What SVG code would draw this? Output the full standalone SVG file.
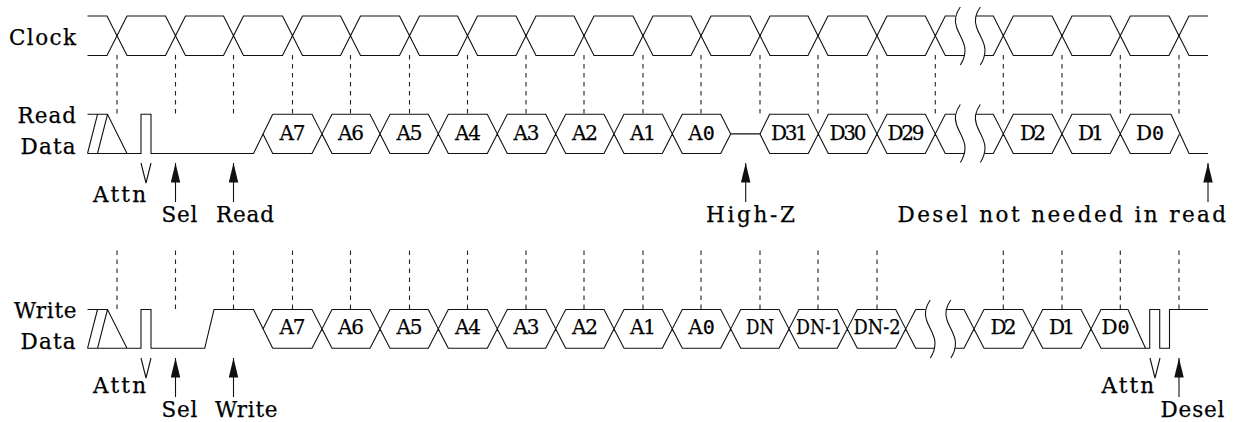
<svg xmlns="http://www.w3.org/2000/svg" width="1243" height="422" viewBox="0 0 1243 422">
<style>
text{font-family:"DejaVu Serif","Liberation Serif",serif;font-size:21.5px;fill:#000;stroke:#000;stroke-width:.25px}
.h{font-size:20px;text-anchor:middle}
.s{font-size:20px}
.z{font-family:"DejaVu Sans Mono",monospace;font-size:20px}
.w{fill:none;stroke:#111;stroke-width:1.1}
.d{fill:none;stroke:#222;stroke-width:1.1;stroke-dasharray:4.5 4.5}
.a{fill:none;stroke:#111;stroke-width:1.1;marker-end:url(#ah)}
</style>
<defs>
<marker id="ah" markerUnits="userSpaceOnUse" markerWidth="20" markerHeight="10" refX="19.5" refY="4.75" orient="auto"><path d="M0 0L19.5 4.75L0 9.5z" fill="#111"/></marker>
<path id="sq1" d="M5.3 0C1 6-1 13 1.5 20C4 28 10 35 10 43C10 49 8 54 5.3 58" fill="none" stroke="#111" stroke-width="1.1"/>
</defs>
<g id="clock">
<text x="9" y="45" textLength="67">Clock</text>
<path class="w" d="M87.5 16H107l10 19.75l10-19.75H165.5l10 19.75l10-19.75H223.5l10 19.75l10-19.75H282.5l10 19.75l10-19.75H340.5l10 19.75l10-19.75H399.5l10 19.75l10-19.75H457.5l10 19.75l10-19.75H516l10 19.75l10-19.75H574l10 19.75l10-19.75H633l10 19.75l10-19.75H691l10 19.75l10-19.75H750l10 19.75l10-19.75H808l10 19.75l10-19.75H867l10 19.75l10-19.75H925.3l10 19.75l10-19.75H955M976 16H993.3l10 19.75l10-19.75H1052l10 19.75l10-19.75H1110.3l10 19.75l10-19.75H1169l10 19.75l10-19.75H1208"/>
<path class="w" d="M87.5 55.5H107l10-19.75l10 19.75H165.5l10-19.75l10 19.75H223.5l10-19.75l10 19.75H282.5l10-19.75l10 19.75H340.5l10-19.75l10 19.75H399.5l10-19.75l10 19.75H457.5l10-19.75l10 19.75H516l10-19.75l10 19.75H574l10-19.75l10 19.75H633l10-19.75l10 19.75H691l10-19.75l10 19.75H750l10-19.75l10 19.75H808l10-19.75l10 19.75H867l10-19.75l10 19.75H925.3l10-19.75l10 19.75H964.5M985 55.5H993.3l10-19.75l10 19.75H1052l10-19.75l10 19.75H1110.3l10-19.75l10 19.75H1169l10-19.75l10 19.75H1208"/>
<use href="#sq1" x="955" y="7"/><use href="#sq1" x="975" y="7"/>
</g>
<g id="read-data">
<text x="17.5" y="123" textLength="58.5">Read</text>
<text x="20.5" y="154" textLength="55">Data</text>
<path class="w" d="M87.5 153.5L97.5 114.3M87.5 114.3H107.5L127 153.5M97.5 153.5L107.5 114.3M87.5 153.5H141V114.3H151V153.5H253.5L272.7 114.3"/>
<path class="w" d="M272.7 114.3H312l10 19.6l10-19.6H370l10 19.6l10-19.6H428.3l10 19.6l10-19.6H487.3l10 19.6l10-19.6H545.7l10 19.6l10-19.6H604l10 19.6l10-19.6H662.3l10 19.6l10-19.6H720.7L730.7 133.9H760L769.7 114.3H808.3l10 19.6l10-19.6H867l10 19.6l10-19.6H925.3l10 19.6l10-19.6H955M976 114.3H993.3l10 19.6l10-19.6H1052l10 19.6l10-19.6H1110.3l10 19.6l10-19.6H1171L1189 153.5H1208"/>
<path class="w" d="M263 133.9L272.7 153.5H312l10-19.6l10 19.6H370l10-19.6l10 19.6H428.3l10-19.6l10 19.6H487.3l10-19.6l10 19.6H545.7l10-19.6l10 19.6H604l10-19.6l10 19.6H662.3l10-19.6l10 19.6H720.7L730.7 133.9M760 133.9L769.7 153.5H808.3l10-19.6l10 19.6H867l10-19.6l10 19.6H925.3l10-19.6l10 19.6H964.5M985 153.5H993.3l10-19.6l10 19.6H1052l10-19.6l10 19.6H1110.3l10-19.6l10 19.6H1170L1179.5 133.9"/>
<use href="#sq1" x="955" y="104.5"/><use href="#sq1" x="975" y="104.5"/>
<text class="h" x="292.5" y="139.5" textLength="26">A7</text>
<text class="h" x="351" y="139.5" textLength="26">A6</text>
<text class="h" x="409.5" y="139.5" textLength="26">A5</text>
<text class="h" x="468" y="139.5" textLength="26">A4</text>
<text class="h" x="526.5" y="139.5" textLength="26">A3</text>
<text class="h" x="585" y="139.5" textLength="26">A2</text>
<text class="h" x="643" y="139.5" textLength="26">A1</text>
<text class="h" x="701.5" y="139.5">A<tspan class="z">0</tspan></text>
<text class="h" x="789.5" y="139.5" textLength="37">D31</text>
<text class="h" x="848" y="139.5" textLength="37">D30</text>
<text class="h" x="906" y="139.5" textLength="37">D29</text>
<text class="h" x="1033" y="139.5" textLength="26">D2</text>
<text class="h" x="1091" y="139.5" textLength="26">D1</text>
<text class="h" x="1150" y="139.5">D<tspan class="z">0</tspan></text>
<path class="w" d="M141 163L146 183L151 163"/>
<text x="93" y="201.7" textLength="53">Attn</text>
<text x="161.5" y="221.7" textLength="36">Sel</text>
<text x="216" y="221.7" textLength="58">Read</text>
<text x="706" y="221.7" textLength="89">High-Z</text>
<text x="897.5" y="221.7" textLength="328.5">Desel not needed in read</text>
</g>
<g id="write-data">
<text x="14" y="317.5" textLength="62.5">Write</text>
<text x="20.5" y="348.5" textLength="55">Data</text>
<path class="w" d="M87.5 348.3L97.5 309.5M87.5 309.5H107.5L127 348.3M97.5 348.3L107.5 309.5M87.5 348.3H141V309.5H151V348.3H204.7L214 309.5H253.5L272.7 348.3"/>
<path class="w" d="M263 328.9L272.7 309.5H312l10 19.4l10-19.4H370l10 19.4l10-19.4H428.3l10 19.4l10-19.4H487.3l10 19.4l10-19.4H545.7l10 19.4l10-19.4H604l10 19.4l10-19.4H662.3l10 19.4l10-19.4H720.7l10 19.4l10-19.4H779l10 19.4l10-19.4H837.3l10 19.4l10-19.4H895.7l10 19.4l10-19.4H925M945.7 309.5H964l10 19.4l10-19.4H1022.7l10 19.4l10-19.4H1081l10 19.4l10-19.4H1128L1145.5 348.3"/>
<path class="w" d="M272.7 348.3H312l10-19.4l10 19.4H370l10-19.4l10 19.4H428.3l10-19.4l10 19.4H487.3l10-19.4l10 19.4H545.7l10-19.4l10 19.4H604l10-19.4l10 19.4H662.3l10-19.4l10 19.4H720.7l10-19.4l10 19.4H779l10-19.4l10 19.4H837.3l10-19.4l10 19.4H895.7l10-19.4l10 19.4H935M955 348.3H964l10-19.4l10 19.4H1022.7l10-19.4l10 19.4H1081l10-19.4l10 19.4H1149.7V309.5H1159.7V348.3H1169.5V309.5H1208"/>
<use href="#sq1" x="925" y="300"/><use href="#sq1" x="945.5" y="300"/>
<text class="h" x="292.5" y="334" textLength="26">A7</text>
<text class="h" x="351" y="334" textLength="26">A6</text>
<text class="h" x="409.5" y="334" textLength="26">A5</text>
<text class="h" x="468" y="334" textLength="26">A4</text>
<text class="h" x="526.5" y="334" textLength="26">A3</text>
<text class="h" x="585" y="334" textLength="26">A2</text>
<text class="h" x="643" y="334" textLength="26">A1</text>
<text class="h" x="701.5" y="334">A<tspan class="z">0</tspan></text>
<text class="h" x="760" y="334" textLength="28" lengthAdjust="spacingAndGlyphs">DN</text>
<text class="h s" x="819" y="334" textLength="46" lengthAdjust="spacingAndGlyphs">DN-1</text>
<text class="h s" x="877" y="334" textLength="47" lengthAdjust="spacingAndGlyphs">DN-2</text>
<text class="h" x="1003.5" y="334" textLength="26">D2</text>
<text class="h" x="1062" y="334" textLength="26">D1</text>
<text class="h" x="1115.5" y="334">D<tspan class="z">0</tspan></text>
<path class="w" d="M141 358L146 378L151 358M1150 358L1155 378L1160 358"/>
<text x="93" y="392.7" textLength="53">Attn</text>
<text x="161.5" y="416.7" textLength="36">Sel</text>
<text x="215" y="416.7" textLength="62.5">Write</text>
<text x="1101.5" y="392.7" textLength="52.5">Attn</text>
<text x="1160.5" y="416.7" textLength="64">Desel</text>
</g>
<g id="connectors">
<path class="d" d="M117 55V114M175.5 55V114M233.5 55V114M292.5 55V114M350.5 55V114M409.5 55V114M467.5 55V114M526 55V114M584 55V114M643 55V114M701 55V114M760 55V114M818 55V114M877 55V114M935.3 55V114M1003.3 55V114M1062 55V114M1120.3 55V114M1179 55V114"/>
<path class="d" d="M117 250.5V310M175.5 250.5V310M233.5 250.5V310M292.5 250.5V310M350.5 250.5V310M409.5 250.5V310M467.5 250.5V310M526 250.5V310M584 250.5V310M643 250.5V310M701 250.5V310M760 250.5V310M818 250.5V310M877 250.5V310M1003.3 250.5V310M1062 250.5V310M1120.3 250.5V310M1179 250.5V310"/>
<path class="a" d="M175.5 202V163"/>
<path class="a" d="M233.5 202V163"/>
<path class="a" d="M745.7 202V163"/>
<path class="a" d="M1208 202V163"/>
<path class="a" d="M175.5 397V358"/>
<path class="a" d="M233.5 397V358"/>
<path class="a" d="M1179 397V358"/>
</g>
</svg>
